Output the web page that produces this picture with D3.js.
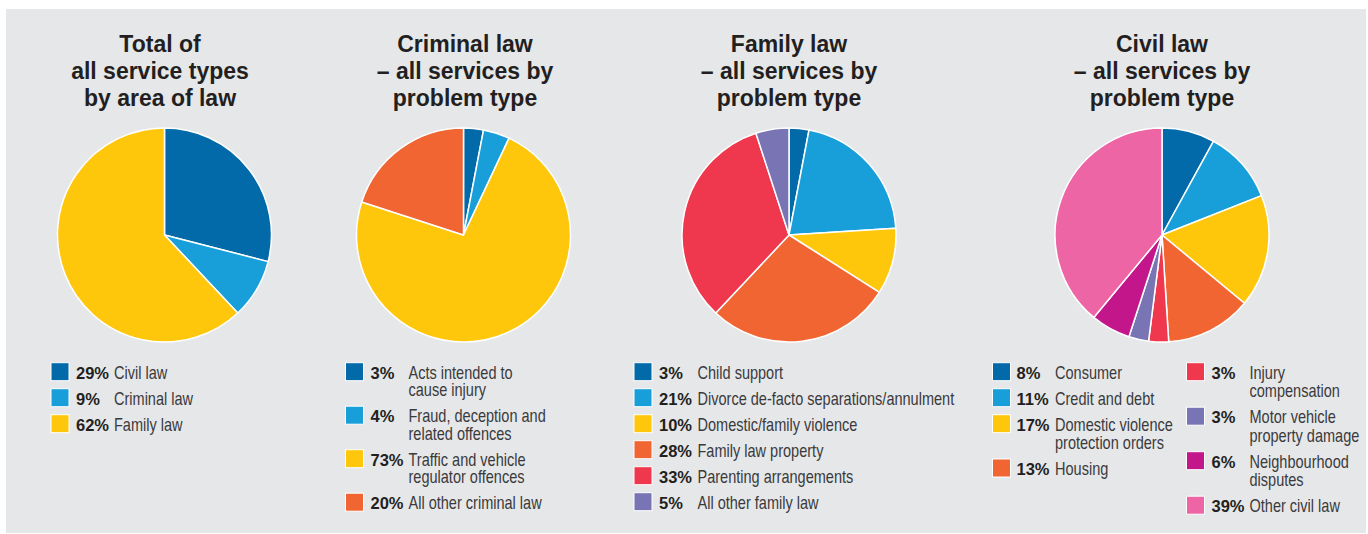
<!DOCTYPE html>
<html>
<head>
<meta charset="utf-8">
<script src="https://cdn.jsdelivr.net/npm/d3@7"></script>
<style>
  html, body { margin: 0; padding: 0; background: #ffffff; }
  svg { display: block; }
</style>
</head>
<body>
<svg id="chart" width="1368" height="534"></svg>
<script>
// ---------- DATA ----------
const totalTitle = ["Total of", "all service types", "by area of law"];
const totalLabels = [["Civil law"], ["Criminal law"], ["Family law"]];
const totalValues = [29, 9, 62];

const criminalTitle = ["Criminal law", "\u2013 all services by", "problem type"];
const criminalLabels = [["Acts intended to", "cause injury"], ["Fraud, deception and", "related offences"], ["Traffic and vehicle", "regulator offences"], ["All other criminal law"]];
const criminalValues = [3, 4, 73, 20];

const familyTitle = ["Family law", "\u2013 all services by", "problem type"];
const familyLabels = [["Child support"], ["Divorce de-facto separations/annulment"], ["Domestic/family violence"], ["Family law property"], ["Parenting arrangements"], ["All other family law"]];
const familyValues = [3, 21, 10, 28, 33, 5];

const civilTitle = ["Civil law", "\u2013 all services by", "problem type"];
const civilLabels = [["Consumer"], ["Credit and debt"], ["Domestic violence", "protection orders"], ["Housing"], ["Injury", "compensation"], ["Motor vehicle", "property damage"], ["Neighbourhood", "disputes"], ["Other civil law"]];
const civilValues = [8, 11, 17, 13, 3, 3, 6, 39];

const palette = {
  darkBlue: "#026aa9", lightBlue: "#189fda", yellow: "#ffc70c", orange: "#f16533",
  red: "#ef374e", purple: "#7974b4", magenta: "#c4168b", pink: "#ee65a5"
};
const totalColors = [palette.darkBlue, palette.lightBlue, palette.yellow];
const criminalColors = [palette.darkBlue, palette.lightBlue, palette.yellow, palette.orange];
const familyColors = [palette.darkBlue, palette.lightBlue, palette.yellow, palette.orange, palette.red, palette.purple];
const civilColors = [palette.darkBlue, palette.lightBlue, palette.yellow, palette.orange, palette.red, palette.purple, palette.magenta, palette.pink];

// ---------- LAYOUT ----------
const svg = d3.select("#chart");
svg.append("rect").attr("x", 6).attr("y", 9).attr("width", 1360).attr("height", 524).attr("fill", "#e6e7e9");

const charts = [
  { title: totalTitle, labels: totalLabels, values: totalValues, colors: totalColors,
    cx: 164.5, tx: 160, legendCols: [{ sx: 51, px: 76, lx: 114, from: 0, to: 3, gap: 17.5 }] },
  { title: criminalTitle, labels: criminalLabels, values: criminalValues, colors: criminalColors,
    cx: 463.5, tx: 465, legendCols: [{ sx: 345.5, px: 370.5, lx: 408.5, from: 0, to: 4, gap: 17.5 }] },
  { title: familyTitle, labels: familyLabels, values: familyValues, colors: familyColors,
    cx: 789, tx: 789, legendCols: [{ sx: 634, px: 659, lx: 697.5, from: 0, to: 6, gap: 17.5 }] },
  { title: civilTitle, labels: civilLabels, values: civilValues, colors: civilColors,
    cx: 1162, tx: 1162, legendCols: [{ sx: 992.5, px: 1016.5, lx: 1055, from: 0, to: 4, gap: 18.3 },
                                     { sx: 1186.5, px: 1211.5, lx: 1249.5, from: 4, to: 8, gap: 18.5 }] }
];

const cy = 235, radius = 107;
const pie = d3.pie().sort(null).value(d => d);
const arc = d3.arc().innerRadius(0).outerRadius(radius);

const font = "'Liberation Sans', Arial, Helvetica, sans-serif";
const labelScaleX = 0.83;

charts.forEach(ch => {
  // title
  const t = svg.append("text")
    .attr("x", ch.tx).attr("text-anchor", "middle")
    .attr("font-family", font).attr("font-weight", "bold")
    .attr("font-size", 23).attr("fill", "#231f20");
  ch.title.forEach((line, i) => {
    t.append("tspan").attr("x", ch.tx).attr("y", 52 + i * 27).text(line);
  });

  // pie
  const g = svg.append("g").attr("transform", `translate(${ch.cx},${cy})`);
  g.selectAll("path").data(pie(ch.values)).join("path")
    .attr("d", arc)
    .attr("fill", (d, i) => ch.colors[i])
    .attr("stroke", "#ffffff").attr("stroke-width", 1.5).attr("stroke-linejoin", "round");

  // legend
  ch.legendCols.forEach(col => {
    let y = 362.7;
    for (let i = col.from; i < col.to; i++) {
      const lg = svg.append("g");
      lg.append("rect").attr("x", col.sx).attr("y", y).attr("width", 18).attr("height", 18)
        .attr("fill", ch.colors[i]).attr("stroke", "#ffffff").attr("stroke-width", 1);
      lg.append("text").attr("x", col.px).attr("y", y + 16)
        .attr("font-family", font).attr("font-weight", "bold").attr("font-size", 16.5)
        .attr("fill", "#231f20").text(ch.values[i] + "%");
      const lt = lg.append("g")
        .attr("transform", `translate(${col.lx},${y + 16}) scale(${labelScaleX},1)`)
        .append("text").attr("font-family", font).attr("font-size", 17.5)
        .attr("fill", "#3a3a3c");
      ch.labels[i].forEach((line, k) => {
        lt.append("tspan").attr("x", 0).attr("y", k * col.gap).text(line);
      });
      y += 26 + col.gap * (ch.labels[i].length - 1);
    }
  });
});
</script>
</body>
</html>
